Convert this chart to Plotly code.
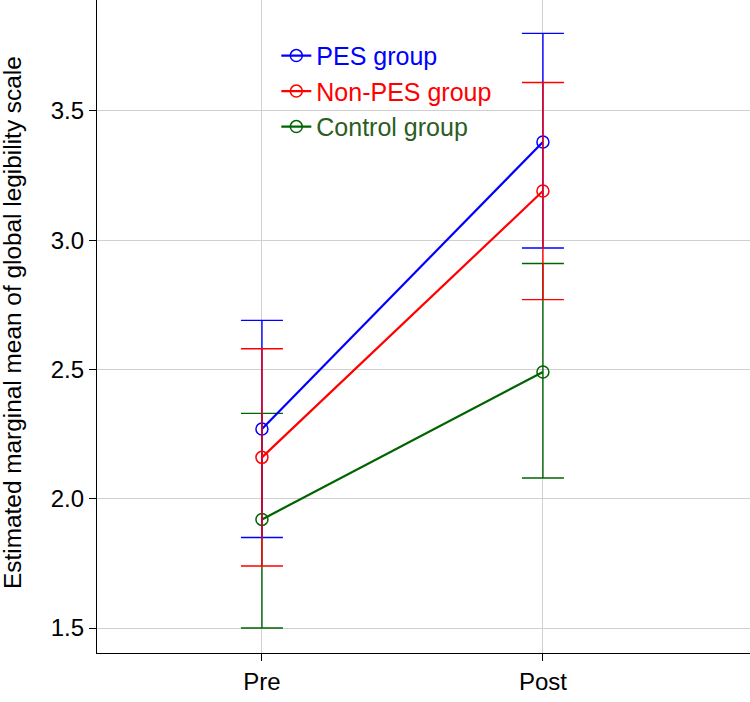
import plotly.graph_objects as go

categories = ["Pre", "Post"]
series_names = ["PES group", "Non-PES group", "Control group"]
pes_mean = [2.27, 3.38]
pes_low = [1.85, 2.97]
pes_high = [2.69, 3.80]
nonpes_mean = [2.16, 3.19]
nonpes_low = [1.74, 2.77]
nonpes_high = [2.58, 3.61]
control_mean = [1.92, 2.49]
control_low = [1.50, 2.08]
control_high = [2.33, 2.91]
y_ticks = [1.5, 2.0, 2.5, 3.0, 3.5]

colors = {"PES group": "#0000FF", "Non-PES group": "#FF0000", "Control group": "#006400"}
text_colors = {"PES group": "#0000FF", "Non-PES group": "#FF0000", "Control group": "#2b5d22"}

data = {
    "PES group": (pes_mean, pes_low, pes_high, 1),
    "Non-PES group": (nonpes_mean, nonpes_low, nonpes_high, 2),
    "Control group": (control_mean, control_low, control_high, 3),
}

fig = go.Figure()
xpos = list(range(len(categories)))
for name in ["Control group", "PES group", "Non-PES group"]:
    m, lo, hi, rank = data[name]
    c = colors[name]
    fig.add_trace(go.Scatter(
        x=xpos, y=m, mode="lines+markers",
        name=f"<span style='color:{text_colors[name]}'>{name}</span>",
        legendrank=rank,
        line=dict(color=c, width=2.2),
        marker=dict(symbol="circle-open", size=12, color=c, line=dict(width=1.5, color=c)),
        error_y=dict(type="data", symmetric=False,
                     array=[h - v for h, v in zip(hi, m)],
                     arrayminus=[v - l for v, l in zip(m, lo)],
                     color=c, thickness=1.4, width=21),
    ))

fig.add_annotation(
    text="Estimated marginal mean of global legibility scale",
    x=0, xref="paper", y=0.5, yref="paper", xanchor="right", yanchor="middle",
    xshift=-69, yshift=4, textangle=-90, showarrow=False,
    font=dict(family="Liberation Sans, Arial, sans-serif", size=24.4, color="black"),
)

fig.update_layout(
    width=750, height=702,
    margin=dict(l=97, r=0, t=0, b=49),
    paper_bgcolor="white", plot_bgcolor="white",
    font=dict(family="Liberation Sans, Arial, sans-serif", size=24, color="black"),
    showlegend=True,
    legend=dict(x=0.2746, y=0.9497, xanchor="left", yanchor="top",
                bgcolor="rgba(0,0,0,0)", font=dict(size=25),
                itemwidth=30, tracegroupgap=0),
    xaxis=dict(
        tickmode="array", tickvals=xpos, ticktext=categories,
        range=[-0.587, 1.737], showgrid=True, gridcolor="#d0d0d0", gridwidth=1.3,
        showline=True, linecolor="black", linewidth=1.3,
        ticks="outside", ticklen=7, tickcolor="black", tickwidth=1,
        zeroline=False,
    ),
    yaxis=dict(
        tickmode="array", tickvals=y_ticks, ticktext=[f"{v:.1f}" for v in y_ticks],
        range=[1.4033, 3.929], showgrid=True, gridcolor="#d0d0d0", gridwidth=1.3,
        showline=True, linecolor="black", linewidth=1.3,
        ticks="outside", ticklen=7, tickcolor="black", tickwidth=1,
        zeroline=False,
    ),
)

fig.write_html("out.html")
